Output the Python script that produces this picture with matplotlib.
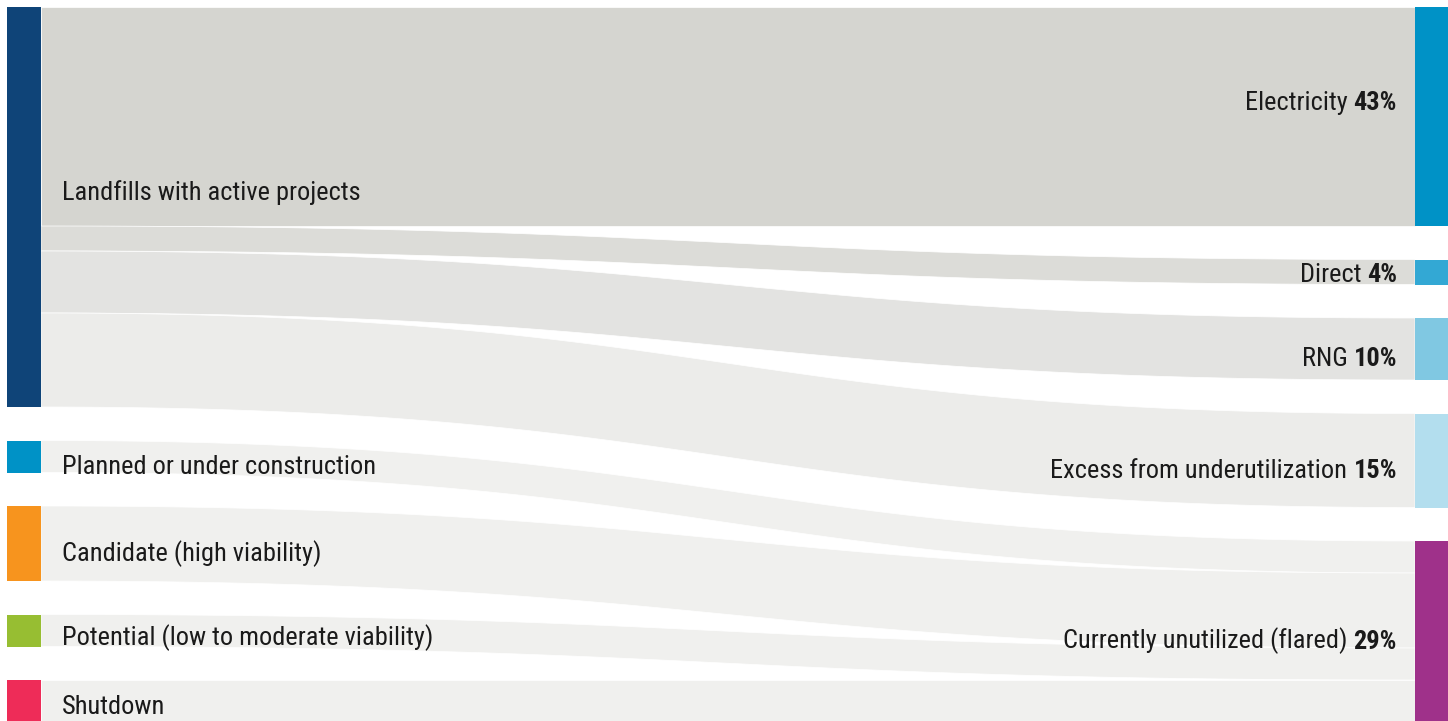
import numpy as np
import matplotlib.pyplot as plt
from matplotlib.patches import Polygon, Rectangle

plt.rcParams['font.family'] = ['Roboto Condensed', 'Liberation Sans Narrow', 'Roboto', 'DejaVu Sans']

# nodes
sources = ['Landfills with active projects', 'Planned or under construction',
           'Candidate (high viability)', 'Potential (low to moderate viability)', 'Shutdown']
targets = ['Electricity', 'Direct', 'RNG', 'Excess from underutilization',
           'Currently unutilized (flared)']
target_pct = ['43%', '4%', '10%', '15%', '29%']

source_colors = ['#0f4478', '#0092c6', '#f7941e', '#97be32', '#ee2c58']
target_colors = ['#0092c6', '#33a8d4', '#80c8e2', '#b3deee', '#9f318a']
link_colors = ['#d5d5d0', '#dcdcd8', '#e3e3e1', '#ececea', '#f0f0ee']

# flows (relative widths)
flow_src = [0, 0, 0, 0, 1, 2, 3, 4]
flow_tgt = [0, 1, 2, 3, 4, 4, 4, 4]
flow_val = [219, 25, 62, 94, 32, 75, 32, 42]

gap = 33.5
node_w = 34
x_left, x_right = 7, 1415
fs = 19

fig = plt.figure(figsize=(14.48, 7.21), dpi=100)
ax = fig.add_axes([0, 0, 1, 1])
ax.set_xlim(0, 1448)
ax.set_ylim(714, -7)
ax.axis('off')


def stack(n, idx):
    sizes = [sum(v for i, v in zip(idx, flow_val) if i == k) for k in range(n)]
    tops = []
    y = 0
    for s in sizes:
        tops.append(y)
        y += s + gap
    return np.array(tops, float), np.array(sizes, float)


src_top, src_size = stack(len(sources), flow_src)
tgt_top, tgt_size = stack(len(targets), flow_tgt)

# links
src_off = src_top.copy()
tgt_off = tgt_top.copy()
t = np.linspace(0, 1, 200)
x0, x1 = x_left + node_w, x_right
xm = (x0 + x1) / 2
bx = (1 - t) ** 3 * x0 + 3 * (1 - t) ** 2 * t * xm + 3 * (1 - t) * t ** 2 * xm + t ** 3 * x1
s = 3 * (1 - t) * t ** 2 + t ** 3
for s_i, t_i, v in zip(flow_src, flow_tgt, flow_val):
    ya, yb = src_off[s_i], tgt_off[t_i]
    top = ya + (yb - ya) * s
    bot = top + v
    pts = np.vstack([np.column_stack([bx, top]), np.column_stack([bx[::-1], bot[::-1]])])
    ax.add_patch(Polygon(pts, closed=True, facecolor=link_colors[t_i],
                         edgecolor='white', linewidth=0.5))
    src_off[s_i] += v
    tgt_off[t_i] += v

# node bars
for k in range(len(sources)):
    ax.add_patch(Rectangle((x_left, src_top[k]), node_w, src_size[k],
                           facecolor=source_colors[k], edgecolor='none'))
for k in range(len(targets)):
    ax.add_patch(Rectangle((x_right, tgt_top[k]), 1448 - x_right, tgt_size[k],
                           facecolor=target_colors[k], edgecolor='none'))

# labels (baseline offsets from node centre)
src_dy = [-7, 17, 17.5, 15, 13]
tgt_dy = [-6.5, 10.5, 17.5, 17.5, 17.5]
txt = '#1a1a1a'
for k, name in enumerate(sources):
    ax.text(62, src_top[k] + src_size[k] / 2 + src_dy[k], name, fontsize=fs,
            color=txt, ha='left', va='baseline')
for k, name in enumerate(targets):
    pct = ax.text(1397, tgt_top[k] + tgt_size[k] / 2 + tgt_dy[k], target_pct[k],
                  fontsize=fs, fontweight='bold', color=txt, ha='right', va='baseline')
    ax.annotate(name + ' ', xy=(0, 0), xycoords=pct, fontsize=fs, color=txt,
                ha='right', va='bottom')

fig.savefig('out.png', dpi=100)
